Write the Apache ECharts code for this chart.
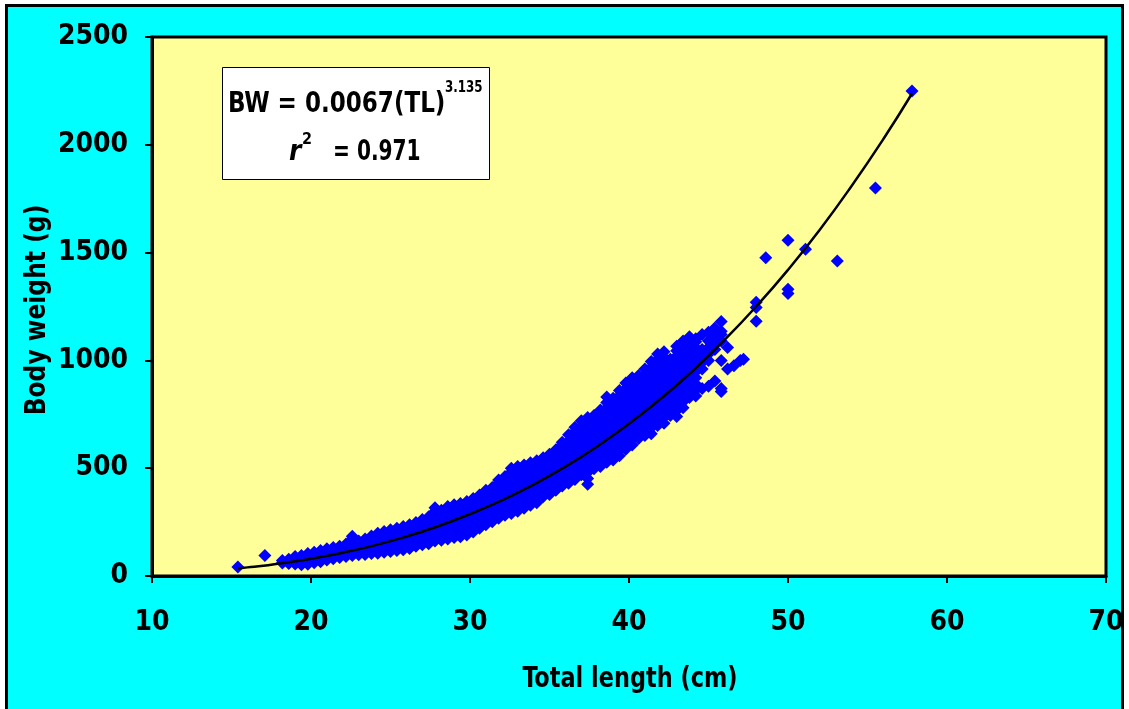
<!DOCTYPE html>
<html>
<head>
<meta charset="utf-8">
<script src="https://cdn.jsdelivr.net/npm/echarts@6/dist/echarts.min.js"></script>
<style>
html,body{margin:0;padding:0;background:#fff;}
#chart{width:1129px;height:709px;}
</style>
</head>
<body>
<div id="chart"></div>
<script>
// Tick labels
const xTicks = [10, 20, 30, 40, 50, 60, 70];
const yTicks = [0, 500, 1000, 1500, 2000, 2500];
const xTitle = 'Total length (cm)';
const yTitle = 'Body weight (g)';

const observations = [
  [15.4,[42]],[17.1,[95]],
  [18.2,[60,72]],[18.6,[58,78]],[19.0,[56,74,90]],[19.4,[52,72,95]],
  [19.8,[55,80,104]],[20.2,[62,86,110]],[20.6,[66,92,118]],[21.0,[74,100,126]],
  [21.4,[80,106,132]],[21.8,[86,112,138]],[22.2,[90,118,148]],
  [22.6,[95,122,150,172,184]],[23.0,[98,124,148,162]],[23.4,[100,126,150,172]],
  [23.8,[104,130,156,180,186]],[24.2,[106,132,158,184,198]],[24.6,[110,136,162,188,206]],
  [25.0,[114,140,166,192,214]],[25.4,[118,144,170,196,222]],[25.8,[122,148,176,204,230]],
  [26.2,[128,154,182,210,238]],[26.6,[138,164,192,220,248]],
  [27.0,[145,172,200,228,256,262]],[27.4,[150,178,206,234,262,275]],
  [27.8,[162,190,218,246,274,300,316]],[28.2,[166,194,222,250,278,305]],
  [28.6,[172,200,228,256,284,310,322]],[29.0,[178,206,234,262,290,316,330]],
  [29.4,[182,210,238,266,294,320,336]],[29.8,[190,218,246,274,302,330,346]],
  [30.2,[204,232,260,288,316,344,360]],[30.6,[222,250,278,306,334,360,376]],
  [31.0,[238,266,294,322,350,378,398]],[31.4,[252,280,308,336,364,392,410]],
  [31.8,[268,296,324,352,380,408,432,445]],[32.2,[282,310,338,366,394,422,448,462]],
  [32.6,[290,318,346,374,402,430,458,482,500]],[33.0,[300,328,356,384,412,440,468,490,508]],
  [33.4,[314,342,370,398,426,454,482,505,515]],[33.8,[328,356,384,412,440,468,496,520,525]],
  [34.2,[340,368,396,424,452,480,508,535]],[34.6,[368,396,424,452,480,508,530,548]],
  [35.0,[378,406,434,462,490,518,544,565]],[35.4,[398,426,454,482,510,538,564,585]],
  [35.8,[418,446,474,502,530,558,586,610,620]],[36.2,[430,458,486,514,542,570,598,626,655]],
  [36.6,[448,476,504,532,560,588,616,644,670,690]],
  [37.0,[470,498,526,554,582,610,638,666,694,720]],
  [37.4,[425,452,480,508,536,564,592,620,648,676,704,735]],
  [37.8,[498,526,554,582,610,638,666,694,722,745]],
  [38.2,[508,536,564,592,620,648,676,704,732,760,770]],
  [38.6,[528,556,584,612,640,668,696,724,752,780,805,830]],
  [39.0,[538,566,594,622,650,678,706,734,762,790,815,825]],
  [39.4,[558,586,614,642,670,698,726,754,782,810,836,860]],
  [39.8,[588,616,644,672,700,728,756,784,812,840,868,895]],
  [40.2,[608,636,664,692,720,748,776,804,832,860,888,920]],
  [40.6,[638,666,694,722,750,778,806,834,862,890,915,930]],
  [41.0,[652,680,708,736,764,792,820,848,876,904,932,960]],
  [41.4,[660,688,716,744,772,800,828,856,884,912,940,968,995]],
  [41.8,[698,726,754,782,810,838,866,894,922,950,978,1005,1030]],
  [42.2,[708,736,764,792,820,848,876,904,932,960,988,1015,1040]],
  [42.6,[745,773,801,829,857,885,913,941,969,997,1005]],
  [43.0,[740,768,796,824,852,880,908,936,964,992,1020,1045,1066]],
  [43.4,[780,808,836,864,892,920,948,976,1004,1032,1060,1090]],
  [43.8,[828,856,884,912,940,968,996,1024,1052,1080,1110]],
  [44.2,[835,863,891,919,947,975,1003,1031,1059,1087,1100]],
  [44.6,[870,960,990,1020,1050,1120]],[45.0,[880,1000,1030,1060,1090,1130]],
  [45.4,[905,1050,1080,1110,1150]],[45.8,[856,870,1000,1090,1120,1135,1180]],
  [46.2,[960,1060]],[46.6,[975]],[47.0,[1000]],[47.2,[1005]],
  [48.0,[1182,1245,1270]],[48.6,[1476]],
  [50.0,[1310,1330,1557]],[51.1,[1515]],[53.1,[1461]],
  [55.5,[1800]],[57.8,[2250]]
];

// Fitted power curve BW = 0.0067 TL^3.135
const curvePoints = [
  [15.4,35],[16,40],[17,48],[18,58],[19,68],[20,80],[22,108],[24,142],
  [26,183],[28,231],[30,287],[32,351],[34,424],[36,507],[38,601],[40,706],
  [42,823],[44,951],[46,1094],[48,1250],[50,1420],[52,1606],[54,1809],
  [56,2027],[57.8,2238]
];

const scatterData = [];
observations.forEach(([tl, ws]) => ws.forEach(w => scatterData.push([tl, w])));

const FONT = '"Liberation Sans Narrow","Arial Narrow","DejaVu Sans Condensed","Liberation Sans",Arial,sans-serif';

const chart = echarts.init(document.getElementById('chart'), null, {renderer:'canvas'});
chart.setOption({
  backgroundColor: '#ffffff',
  animation: false,
  graphic: [
    {type:'rect', z:-10, silent:true,
     shape:{x:6.5, y:5.5, width:1116, height:712},
     style:{fill:'#00FFFF', stroke:'#000', lineWidth:3}},
    {type:'rect', z:100, shape:{x:222.5, y:67.5, width:267, height:112},
     style:{fill:'#ffffff', stroke:'#000', lineWidth:1}},
    {type:'text', z:101, x:228, y:91, scaleX:0.915,
     style:{text:'BW = 0.0067(TL)', font:'bold 28px ' + FONT, fill:'#000'}},
    {type:'text', z:101, x:445, y:81, scaleX:0.88,
     style:{text:'3.135', font:'bold 15px ' + FONT, fill:'#000'}},
    {type:'text', z:101, x:289, y:139,
     style:{text:'r', font:'italic bold 28px ' + FONT, fill:'#000'}},
    {type:'text', z:101, x:302, y:132,
     style:{text:'2', font:'bold 16px ' + FONT, fill:'#000'}},
    {type:'text', z:101, x:333, y:139, scaleX:0.8,
     style:{text:'= 0.971', font:'bold 28px ' + FONT, fill:'#000'}},
    {type:'text', z:50, x:630, y:680, scaleX:0.89,
     style:{text:xTitle, font:'bold 28px ' + FONT, fill:'#000',
            textAlign:'center', textVerticalAlign:'middle'}},
    {type:'text', z:50, x:38, y:310, rotation:Math.PI/2, scaleX:0.93,
     style:{text:yTitle, font:'bold 28px ' + FONT, fill:'#000',
            textAlign:'center', textVerticalAlign:'middle'}}
  ],
  grid: {left:152, top:37, width:954, height:539, show:true,
         backgroundColor:'#FFFF99', borderColor:'#000', borderWidth:3},
  xAxis: {
    type:'value', min:10, max:70, interval:10,
    axisLine:{show:true, onZero:false, lineStyle:{color:'#000', width:3}},
    axisTick:{show:true, length:7, lineStyle:{color:'#000', width:2}},
    axisLabel:{margin:33, fontFamily:FONT, fontWeight:'bold', fontSize:28, color:'#000',
      formatter: v => xTicks.includes(v) ? String(v) : ''},
    splitLine:{show:false}
  },
  yAxis: {
    type:'value', min:0, max:2500, interval:500,
    axisLine:{show:true, lineStyle:{color:'#000', width:3}},
    axisTick:{show:true, length:7, lineStyle:{color:'#000', width:2}},
    axisLabel:{margin:24, fontFamily:FONT, fontWeight:'bold', fontSize:28, color:'#000',
      formatter: v => yTicks.includes(v) ? String(v) : ''},
    splitLine:{show:false}
  },
  series: [
    {type:'scatter', data:scatterData, symbol:'diamond', symbolSize:13, large:false,
     itemStyle:{color:'#0000FF', opacity:1}, z:2},
    {type:'line', data:curvePoints, smooth:true, showSymbol:false, symbol:'none',
     lineStyle:{color:'#000', width:2.5}, z:3}
  ]
});
</script>
</body>
</html>
